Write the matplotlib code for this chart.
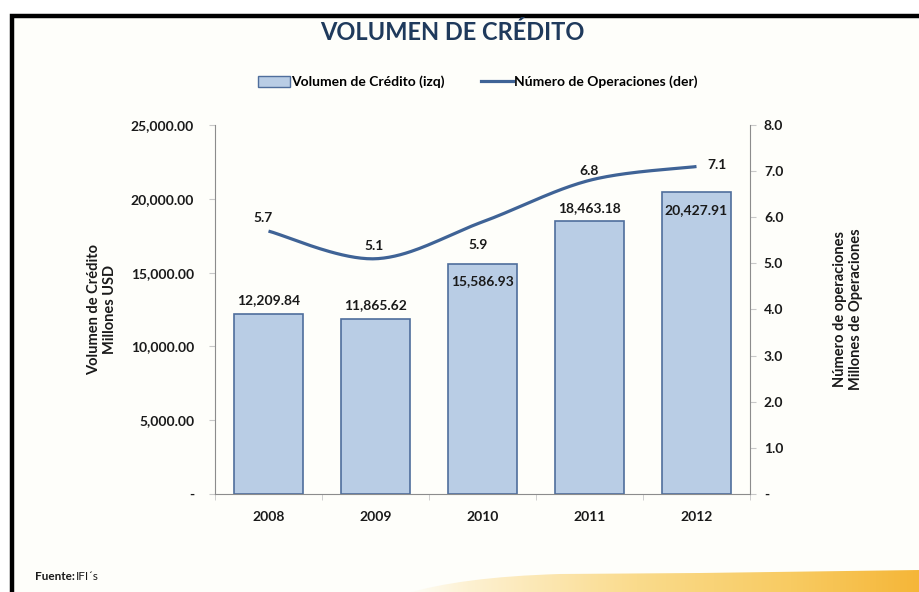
import numpy as np
import matplotlib
matplotlib.use("Agg")
import matplotlib.pyplot as plt
from matplotlib.patches import Rectangle, Patch, PathPatch
from matplotlib.lines import Line2D
from matplotlib.path import Path
from matplotlib.colors import LinearSegmentedColormap
from matplotlib.ticker import FixedLocator, FuncFormatter

plt.rcParams['font.family'] = ['Lato', 'DejaVu Sans']
plt.rcParams['font.weight'] = 'bold'
plt.rcParams['axes.labelweight'] = 'bold'

years = ["2008", "2009", "2010", "2011", "2012"]
credit_volume = [12209.84, 11865.62, 15586.93, 18463.18, 20427.91]
operations = [5.7, 5.1, 5.9, 6.8, 7.1]
credit_labels = ["12,209.84", "11,865.62", "15,586.93", "18,463.18", "20,427.91"]
operation_labels = ["5.7", "5.1", "5.9", "6.8", "7.1"]
left_ticks = [0, 5000, 10000, 15000, 20000, 25000]
right_ticks = [0, 1, 2, 3, 4, 5, 6, 7, 8]

BG = "#fefefa"
BAR_FACE = "#b9cde5"
BAR_EDGE = "#4f6e9c"
LINE_COLOR = "#3f6396"
TEXT = "#1a1a1a"
AXIS_GRAY = "#8c8c8c"

fig = plt.figure(figsize=(9.2, 5.92), dpi=100)
fig.patch.set_facecolor("white")

# framed panel
panel = Rectangle((12 / 920, -0.02), 1.0, 1 - 16 / 592 + 0.02, transform=fig.transFigure,
                  facecolor=BG, edgecolor="black", linewidth=3.2, zorder=0)
fig.patches.append(panel)

# warm swoosh along the bottom edge
sw = fig.add_axes([0, 0, 1, 1], zorder=0.5)
sw.set_xlim(0, 920)
sw.set_ylim(592, 0)
sw.axis("off")
sw.patch.set_alpha(0)
grad = np.linspace(0, 1, 256)[None, :]
cmap = LinearSegmentedColormap.from_list(
    "warm", [(0.0, BG), (0.12, "#fdf1d2"), (0.45, "#fadb8c"), (0.75, "#f8cb62"), (1.0, "#f5b638")])
img = sw.imshow(grad, cmap=cmap, extent=(405, 920, 592, 566), aspect="auto", zorder=1)
verts = [(405, 594), (460, 577), (560, 574), (700, 573), (920, 570),
         (922, 570), (922, 594), (405, 594)]
codes = [Path.MOVETO, Path.CURVE3, Path.CURVE3, Path.LINETO, Path.LINETO,
         Path.LINETO, Path.LINETO, Path.CLOSEPOLY]
clip = PathPatch(Path(verts, codes), transform=sw.transData, facecolor="none", edgecolor="none")
sw.add_patch(clip)
img.set_clip_path(clip)

L, R, T, B = 215, 750, 125, 494
ax = fig.add_axes([L / 920, 1 - B / 592, (R - L) / 920, (B - T) / 592], zorder=2)
ax.patch.set_alpha(0)
x = np.arange(len(years))
ax.bar(x, credit_volume, width=0.65, color=BAR_FACE, edgecolor=BAR_EDGE, linewidth=1.2, zorder=2)
ax.set_xlim(-0.5, len(years) - 0.5)
ax.set_ylim(0, 25000)

for s in ["top", "right"]:
    ax.spines[s].set_visible(False)
for s in ["left", "bottom"]:
    ax.spines[s].set_color(AXIS_GRAY)
    ax.spines[s].set_linewidth(0.8)

ax.yaxis.set_major_locator(FixedLocator(left_ticks))
ax.yaxis.set_major_formatter(FuncFormatter(lambda v, p: "-" if v == 0 else f"{v:,.2f}"))
ax.tick_params(axis="y", direction="out", length=4, color="#c8c8c8", pad=11,
               labelsize=10, labelcolor=TEXT)

ax.set_xticks(x)
ax.set_xticklabels(years, fontsize=10, color=TEXT)
ax.xaxis.set_minor_locator(FixedLocator(np.arange(-0.5, len(years), 1.0)))
ax.tick_params(axis="x", which="major", length=0, pad=12)
ax.tick_params(axis="x", which="minor", direction="out", length=4, color="#c8c8c8")

ax.set_ylabel("Volumen de Crédito\nMillones USD", fontsize=10.5,
              color=TEXT, labelpad=10, linespacing=1.15)

ax2 = ax.twinx()
ax2.set_ylim(0, 8)
ax2.set_zorder(3)
for s in ["top", "left", "bottom"]:
    ax2.spines[s].set_visible(False)
ax2.spines["right"].set_color(AXIS_GRAY)
ax2.spines["right"].set_linewidth(0.8)
ax2.yaxis.set_major_locator(FixedLocator(right_ticks))
ax2.yaxis.set_major_formatter(FuncFormatter(lambda v, p: "-" if v == 0 else f"{v:.1f}"))
ax2.tick_params(axis="y", direction="out", length=4, color="#c8c8c8", pad=6,
                labelsize=10, labelcolor=TEXT)
ax2.set_ylabel("Número de operaciones\nMillones de Operaciones", fontsize=10.5,
               color=TEXT, labelpad=36, linespacing=1.15, rotation=90)
ax2.yaxis.set_label_position("right")

# smoothed line (cardinal spline computed in screen-proportional units)
px_per_cat = (R - L) / len(years)
px_per_unit = (B - T) / 8.0
P = np.column_stack([x * px_per_cat, np.array(operations) * px_per_unit])
curve = []
n = len(P)
for i in range(n - 1):
    p0 = P[i - 1] if i > 0 else P[i]
    p1, p2 = P[i], P[i + 1]
    p3 = P[i + 2] if i + 2 < n else P[i + 1]
    c1 = p1 + (p2 - p0) / 6
    c2 = p2 - (p3 - p1) / 6
    t = np.linspace(0, 1, 40)[:, None]
    seg = (1 - t) ** 3 * p1 + 3 * (1 - t) ** 2 * t * c1 + 3 * (1 - t) * t ** 2 * c2 + t ** 3 * p2
    curve.append(seg if i == 0 else seg[1:])
curve = np.vstack(curve)
ax2.plot(curve[:, 0] / px_per_cat, curve[:, 1] / px_per_unit, color=LINE_COLOR,
         linewidth=2.3, solid_capstyle="butt", zorder=4)

# data labels
bar_offsets = [(0, 10), (0, 10), (0, -12), (0, 10), (0, -13)]
for i, (v, lab) in enumerate(zip(credit_volume, credit_labels)):
    dx, dy = bar_offsets[i]
    ax.annotate(lab, (x[i], v), xytext=(dx, dy), textcoords="offset points",
                ha="center", va="center", fontsize=10, color=TEXT, zorder=5)

line_offsets = [(-4, 9.5), (-1, 9.5), (-3, -16.5), (0, 7), (14.5, 1)]
for i, (v, lab) in enumerate(zip(operations, operation_labels)):
    dx, dy = line_offsets[i]
    ax2.annotate(lab, (x[i], v), xytext=(dx, dy), textcoords="offset points",
                 ha="center", va="center", fontsize=10, color=TEXT, zorder=5)

fig.text(452 / 920, 1 - 33 / 592, "VOLUMEN DE CRÉDITO", ha="center", va="center",
         fontsize=17, color="#1f3a5c")

handles = [Patch(facecolor=BAR_FACE, edgecolor=BAR_EDGE, linewidth=1.0),
           Line2D([0], [0], color=LINE_COLOR, linewidth=2.3)]
fig.legend(handles, ["Volumen de Crédito (izq)", "Número de Operaciones (der)"],
           loc="center", bbox_to_anchor=(478 / 920, 1 - 82 / 592), ncol=2, frameon=False,
           prop={"size": 10, "weight": "bold"}, handlelength=2.3, handletextpad=0.1,
           columnspacing=2.6, handleheight=0.9)

fig.text(35 / 920, 1 - 577 / 592, "Fuente:", ha="left", va="center", fontsize=8.5,
         color=TEXT)
fig.text(76 / 920, 1 - 577 / 592, "IFI´s", ha="left", va="center", fontsize=8.5,
         fontweight="normal", color=TEXT)

fig.savefig("out.png", dpi=100, facecolor=fig.get_facecolor())
